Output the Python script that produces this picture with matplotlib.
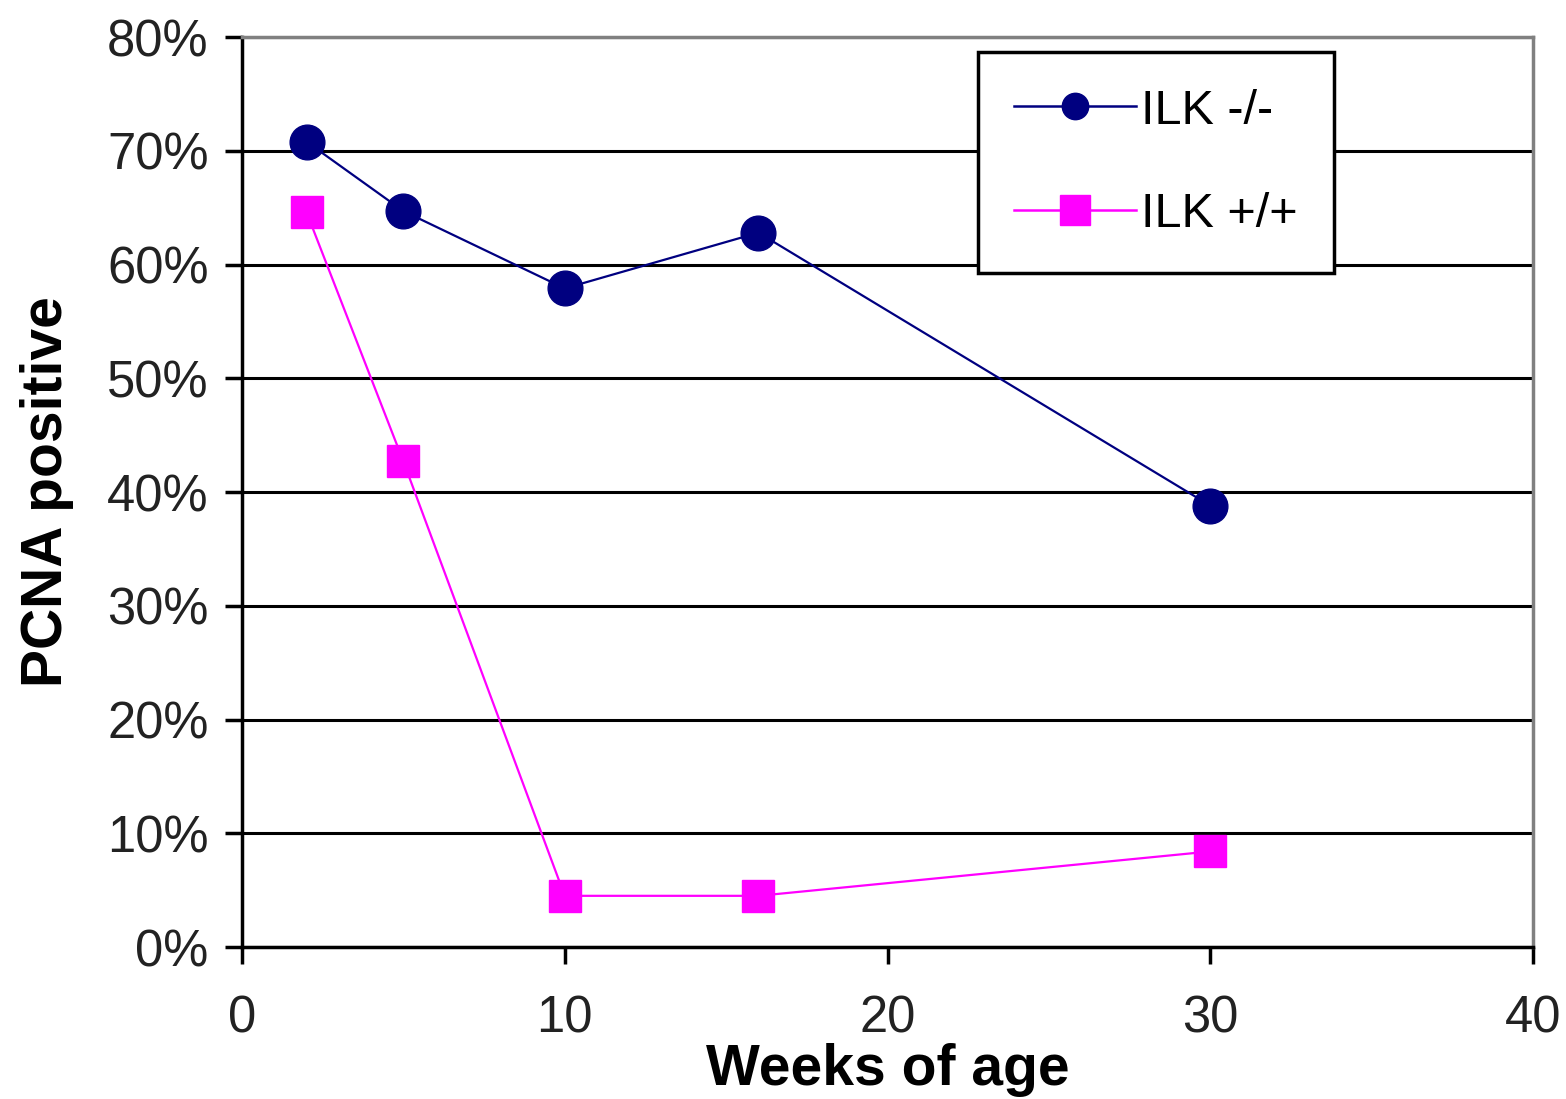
import matplotlib
matplotlib.use("Agg")
import matplotlib.pyplot as plt
from matplotlib.lines import Line2D
from matplotlib.ticker import FuncFormatter, MultipleLocator

plt.rcParams['font.family'] = ['Liberation Sans', 'DejaVu Sans']

weeks = [2, 5, 10, 16, 30]
ilk_ko = [70.8, 64.7, 57.9, 62.8, 38.8]   # ILK -/-
ilk_wt = [64.6, 42.7, 4.5, 4.5, 8.4]      # ILK +/+
series_labels = ["ILK -/-", "ILK +/+"]

KO_COLOR = "#000080"
WT_COLOR = "#FF00FF"

fig = plt.figure(figsize=(15.66, 10.99), dpi=100)
ax = fig.add_axes([0.1545, 0.1383, 0.8245, 0.828])

ax.plot(weeks, ilk_ko, color=KO_COLOR, lw=1.6, marker="o", ms=25,
        markerfacecolor=KO_COLOR, markeredgecolor=KO_COLOR, zorder=3)
ax.plot(weeks, ilk_wt, color=WT_COLOR, lw=1.6, marker="s", ms=22.5,
        markerfacecolor=WT_COLOR, markeredgecolor=WT_COLOR, zorder=3)

ax.set_xlim(0, 40)
ax.set_ylim(0, 80)
ax.xaxis.set_major_locator(MultipleLocator(10))
ax.yaxis.set_major_locator(MultipleLocator(10))
ax.yaxis.set_major_formatter(FuncFormatter(lambda v, p: f"{int(round(v))}%"))

ax.grid(axis="y", color="black", lw=2.2)
ax.set_axisbelow(True)

for side in ("left", "bottom"):
    ax.spines[side].set_color("black")
    ax.spines[side].set_linewidth(2.5)
for side in ("top", "right"):
    ax.spines[side].set_color("#808080")
    ax.spines[side].set_linewidth(2.5)

ax.tick_params(axis="both", direction="out", length=12, width=2.5,
               color="black", labelsize=36.5, labelcolor="#222222")
ax.tick_params(axis="x", pad=22)
ax.tick_params(axis="y", pad=12)

ax.set_xlabel("Weeks of age", fontsize=41, fontweight="bold", labelpad=0)
ax.set_ylabel("PCNA positive", fontsize=41, fontweight="bold", labelpad=24)

handles = [
    Line2D([], [], color=KO_COLOR, lw=1.8, marker="o", ms=19,
           markerfacecolor=KO_COLOR, markeredgecolor=KO_COLOR),
    Line2D([], [], color=WT_COLOR, lw=1.8, marker="s", ms=21,
           markerfacecolor=WT_COLOR, markeredgecolor=WT_COLOR),
]
leg = ax.legend(handles, series_labels, loc="upper left",
                bbox_to_anchor=(0.570, 0.9835),
                fontsize=35, frameon=True, fancybox=False, framealpha=1,
                edgecolor="black", borderpad=0.75, labelspacing=1.2,
                handlelength=2.5, handletextpad=0.1, borderaxespad=0)
leg.get_frame().set_linewidth(2.5)

fig.savefig("out.png", dpi=100, facecolor="white")
